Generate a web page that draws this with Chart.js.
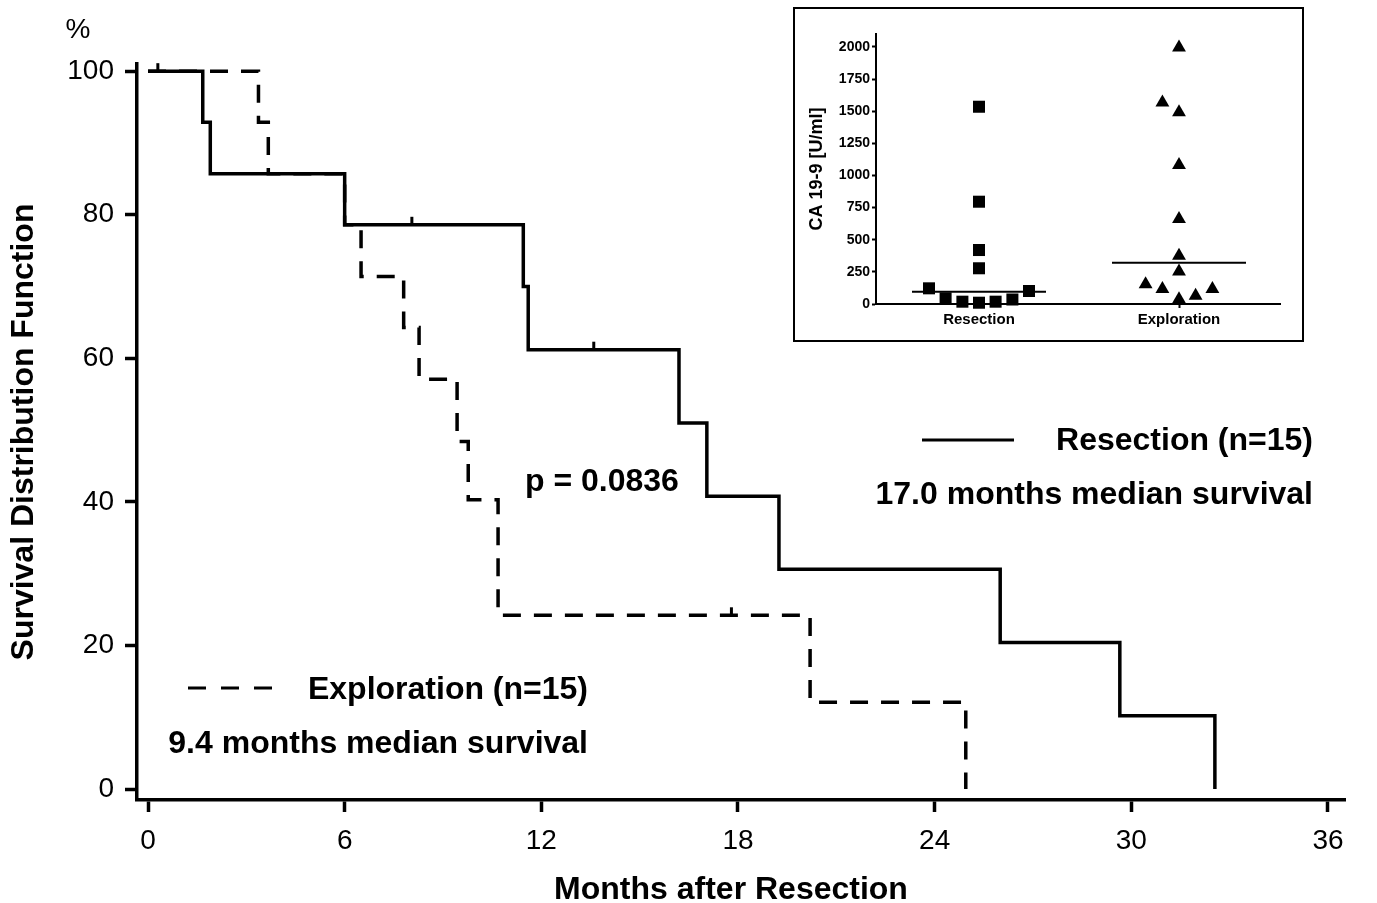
<!DOCTYPE html>
<html>
<head>
<meta charset="utf-8">
<script src="https://cdn.jsdelivr.net/npm/chart.js@4.4.1/dist/chart.umd.min.js"></script>
<style>
html,body{margin:0;padding:0;background:#fff;}
#wrap{position:relative;width:1377px;height:903px;overflow:hidden;}
#main{position:absolute;left:0;top:0;}
#insetBox{position:absolute;left:793px;top:7px;width:511px;height:335px;box-sizing:border-box;border:2px solid #000;background:#fff;}
#inset{position:absolute;left:0;top:0;}
</style>
</head>
<body>
<div id="wrap">
  <canvas id="main" width="1377" height="903"></canvas>
  <div id="insetBox"><canvas id="inset" width="507" height="331"></canvas></div>
</div>
<script>
// ---------- Kaplan-Meier data (months, survival %) ----------
const resMonths = [0, 1.67, 1.9, 6.0, 11.45, 11.6, 16.2, 17.05, 19.25, 26.0, 29.65, 32.55];
const resSurv   = [100, 92.9, 85.7, 78.6, 70.0, 61.2, 51.0, 40.8, 30.6, 20.4, 10.2, 0];
const resCensorMonths = [0.3, 8.05, 13.6];
const resCensorSurv   = [100, 78.6, 61.2];

const expMonths = [0, 3.37, 3.67, 6.0, 6.5, 7.8, 8.27, 9.43, 9.77, 10.68, 20.2, 24.95];
const expSurv   = [100, 92.9, 85.7, 78.6, 71.4, 64.3, 57.1, 48.4, 40.3, 24.2, 12.1, 0];
const expCensorMonths = [17.8];
const expCensorSurv   = [24.2];

const xTicks = [0, 6, 12, 18, 24, 30, 36];
const yTicks = [0, 20, 40, 60, 80, 100];

// ---------- Inset: CA 19-9 [U/ml] ----------
const insetCategories = ['Resection', 'Exploration'];
const resCA     = [1535, 796, 420, 278, 122, 44, 18, 10, 18, 35, 101];
const resJitter = [0, 0, 0, 0, -0.25, -0.167, -0.083, 0, 0.083, 0.167, 0.25];
const expCA     = [1995, 1567, 1492, 1082, 661, 376, 252, 153, 117, 37, 65, 117];
const expJitter = [0, -0.083, 0, 0, 0, 0, 0, -0.167, -0.083, 0, 0.083, 0.167];
const medianCA  = [96, 321];
const medianHalfWidth = 0.335;
const insetYTicks = [0, 250, 500, 750, 1000, 1250, 1500, 1750, 2000];

// ---------- texts ----------
const FONT = '"Liberation Sans", Arial, Helvetica, sans-serif';
const texts = [
  {t: 'p = 0.0836', x: 525, y: 491, align: 'left'},
  {t: 'Resection (n=15)', x: 1313, y: 450, align: 'right'},
  {t: '17.0 months median survival', x: 1313, y: 504, align: 'right'},
  {t: 'Exploration (n=15)', x: 588, y: 699, align: 'right'},
  {t: '9.4 months median survival', x: 588, y: 753, align: 'right'},
  {t: 'Months after Resection', x: 731, y: 899, align: 'center'}
];

const censorPlugin = {
  id: 'censor',
  afterDatasetsDraw(chart) {
    const ctx = chart.ctx;
    chart.data.datasets.forEach((ds, i) => {
      if (!ds.censor) return;
      const meta = chart.getDatasetMeta(i);
      ctx.save();
      ctx.strokeStyle = '#000';
      ctx.lineWidth = 3;
      meta.data.forEach(el => {
        ctx.beginPath();
        ctx.moveTo(el.x, el.y);
        ctx.lineTo(el.x, el.y - 8);
        ctx.stroke();
      });
      ctx.restore();
    });
  }
};

const textPlugin = {
  id: 'texts',
  afterDraw(chart) {
    const ctx = chart.ctx;
    ctx.save();
    ctx.fillStyle = '#000';
    ctx.textBaseline = 'alphabetic';
    ctx.font = 'bold 32px ' + FONT;
    texts.forEach(o => { ctx.textAlign = o.align; ctx.fillText(o.t, o.x, o.y); });
    ctx.font = '28px ' + FONT;
    ctx.textAlign = 'center';
    ctx.fillText('%', 78, 38);
    // legend samples
    ctx.strokeStyle = '#000';
    ctx.lineWidth = 3;
    ctx.beginPath(); ctx.moveTo(922, 440); ctx.lineTo(1014, 440); ctx.stroke();
    ctx.setLineDash([18, 15]);
    ctx.beginPath(); ctx.moveTo(188, 688); ctx.lineTo(272, 688); ctx.stroke();
    ctx.restore();
  }
};

const pts = (xs, ys) => xs.map((x, i) => ({x: x, y: ys[i]}));

new Chart(document.getElementById('main'), {
  type: 'scatter',
  data: {
    datasets: [
      {label: 'Resection', data: pts(resMonths, resSurv), showLine: true, stepped: 'before',
       borderColor: '#000', borderWidth: 3.5, pointRadius: 0, fill: false, clip: false},
      {label: 'Exploration', data: pts(expMonths, expSurv), showLine: true, stepped: 'before',
       borderColor: '#000', borderWidth: 3.5, borderDash: [18, 13], pointRadius: 0, fill: false, clip: false},
      {label: 'Resection censored', data: pts(resCensorMonths, resCensorSurv), censor: true, pointRadius: 0, showLine: false},
      {label: 'Exploration censored', data: pts(expCensorMonths, expCensorSurv), censor: true, pointRadius: 0, showLine: false}
    ]
  },
  options: {
    responsive: false, animation: false, events: [],
    layout: {padding: {left: 0, top: 64, right: 32, bottom: 0}},
    plugins: {legend: {display: false}, tooltip: {enabled: false}},
    scales: {
      x: {
        type: 'linear', min: -0.336, max: 36.52,
        afterBuildTicks: s => { s.ticks = xTicks.map(v => ({value: v})); },
        afterFit: s => { s.height = 103; },
        grid: {display: true, drawOnChartArea: false, drawTicks: true, tickLength: 12, tickWidth: 3.5, tickColor: '#000'},
        border: {display: true, width: 3.5, color: '#000'},
        ticks: {color: '#000', font: {family: FONT, size: 28}, padding: 12, maxRotation: 0, autoSkip: false,
                callback: v => String(v)},
        title: {display: false}
      },
      y: {
        type: 'linear', min: -1.53, max: 101.0,
        afterBuildTicks: s => { s.ticks = yTicks.map(v => ({value: v})); },
        afterFit: s => { s.width = 137; },
        grid: {display: true, drawOnChartArea: false, drawTicks: true, tickLength: 12, tickWidth: 3.5, tickColor: '#000'},
        border: {display: true, width: 3.5, color: '#000'},
        ticks: {color: '#000', font: {family: FONT, size: 28}, padding: 11, callback: v => String(v)},
        title: {display: true, text: 'Survival Distribution Function', color: '#000',
                font: {family: FONT, size: 32, weight: 'bold', lineHeight: 1.1}, padding: {top: 7, bottom: 0}}
      }
    }
  },
  plugins: [censorPlugin, textPlugin]
});

// ---------- inset chart ----------
new Chart(document.getElementById('inset'), {
  type: 'scatter',
  data: {
    datasets: [
      {label: 'Resection', data: resCA.map((v, i) => ({x: 1 + resJitter[i], y: v})),
       pointStyle: 'rect', pointRadius: 8.5, backgroundColor: '#000', borderColor: '#000', borderWidth: 0, clip: false},
      {label: 'Exploration', data: expCA.map((v, i) => ({x: 2 + expJitter[i], y: v})),
       pointStyle: 'triangle', pointRadius: 8, backgroundColor: '#000', borderColor: '#000', borderWidth: 0, clip: false},
      {label: 'Resection median', data: [{x: 1 - medianHalfWidth, y: medianCA[0]}, {x: 1 + medianHalfWidth, y: medianCA[0]}],
       showLine: true, borderColor: '#000', borderWidth: 2, pointRadius: 0, clip: false},
      {label: 'Exploration median', data: [{x: 2 - medianHalfWidth, y: medianCA[1]}, {x: 2 + medianHalfWidth, y: medianCA[1]}],
       showLine: true, borderColor: '#000', borderWidth: 2, pointRadius: 0, clip: false}
    ]
  },
  options: {
    responsive: false, animation: false, events: [],
    layout: {padding: {left: 0, top: 25, right: 22, bottom: 0}},
    plugins: {legend: {display: false}, tooltip: {enabled: false}},
    scales: {
      x: {
        type: 'linear', min: 0.485, max: 2.505,
        afterBuildTicks: s => { s.ticks = [1, 2].map(v => ({value: v})); },
        afterFit: s => { s.height = 36; },
        grid: {display: true, drawOnChartArea: false, drawTicks: true, tickLength: 4, tickWidth: 2, tickColor: '#000'},
        border: {display: true, width: 2, color: '#000'},
        ticks: {color: '#000', font: {family: FONT, size: 15, weight: 'bold'}, padding: 3, maxRotation: 0, autoSkip: false,
                callback: v => insetCategories[Math.round(v) - 1]}
      },
      y: {
        type: 'linear', min: 0, max: 2101,
        afterBuildTicks: s => { s.ticks = insetYTicks.map(v => ({value: v})); },
        afterFit: s => { s.width = 81; },
        grid: {display: true, drawOnChartArea: false, drawTicks: true, tickLength: 4, tickWidth: 2, tickColor: '#000'},
        border: {display: true, width: 2, color: '#000'},
        ticks: {color: '#000', font: {family: FONT, size: 14, weight: 'bold'}, padding: 2, callback: v => String(v)},
        title: {display: true, text: 'CA 19-9 [U/ml]', color: '#000',
                font: {family: FONT, size: 18, weight: 'bold', lineHeight: 1.2}, padding: {top: 11, bottom: 0}}
      }
    }
  }
});
</script>
</body>
</html>
